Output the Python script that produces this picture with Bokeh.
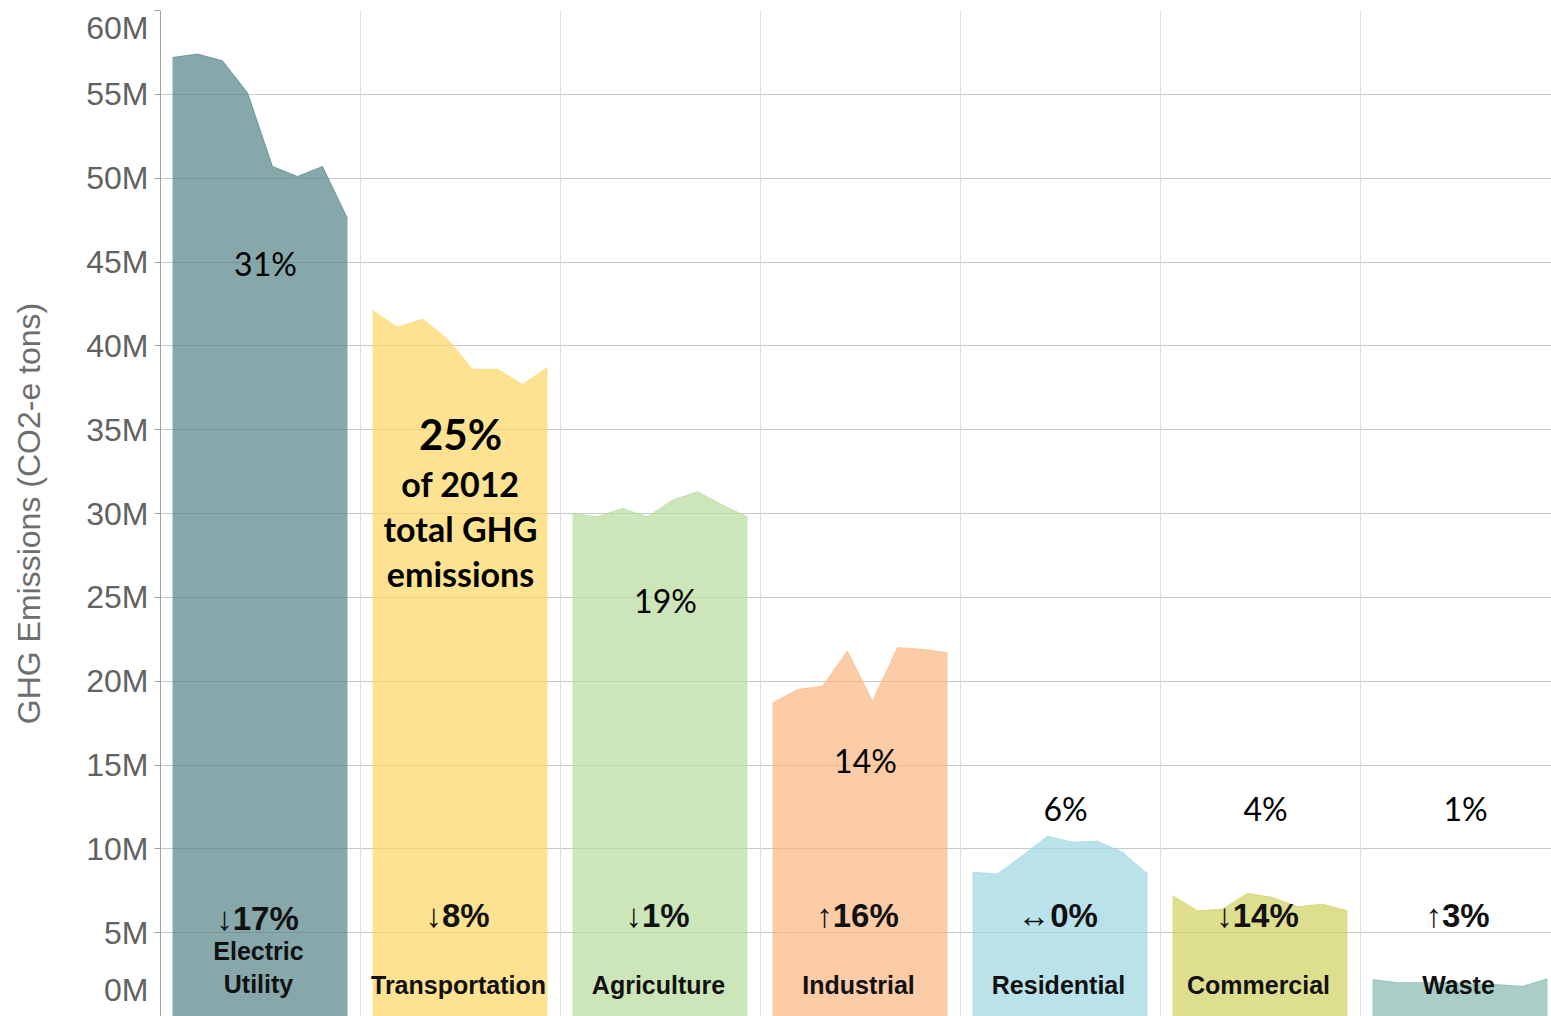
from bokeh.plotting import figure
from bokeh.models import Range1d, FixedTicker, ColumnDataSource, PrintfTickFormatter, Grid
from bokeh.core.properties import value
from bokeh.embed import file_html
from bokeh.resources import INLINE

# ---------------- data ----------------
years = [2005, 2006, 2007, 2008, 2009, 2010, 2011, 2012]
sectors = ["Electric Utility", "Transportation", "Agriculture", "Industrial",
           "Residential", "Commercial", "Waste"]
# GHG emissions, millions of tons CO2-e
electric = [57.2, 57.4, 57.0, 55.1, 50.7, 50.1, 50.7, 47.6]
transportation = [42.1, 41.1, 41.6, 40.4, 38.6, 38.6, 37.7, 38.7]
agriculture = [30.0, 29.8, 30.3, 29.8, 30.8, 31.3, 30.5, 29.8]
industrial = [18.7, 19.5, 19.7, 21.8, 18.8, 22.0, 21.9, 21.7]
residential = [8.6, 8.5, 9.6, 10.75, 10.4, 10.45, 9.8, 8.5]
commercial = [7.2, 6.3, 6.4, 7.35, 7.1, 6.55, 6.7, 6.3]
waste = [2.2, 2.02, 2.02, 2.02, 1.96, 1.9, 1.8, 2.25]

share_2012 = ["31%", "25%", "19%", "14%", "6%", "4%", "1%"]
change_2005_2012 = ["↓17%", "↓8%", "↓1%", "↑16%", "↔0%", "↓14%", "↑3%"]
sector_labels = ["Electric\nUtility", "Transportation", "Agriculture", "Industrial",
                 "Residential", "Commercial", "Waste"]
note_lines = ["of 2012", "total GHG", "emissions"]
y_ticks = [0, 5, 10, 15, 20, 25, 30, 35, 40, 45, 50, 55, 60]

# ---------------- styling / layout ----------------
series = [electric, transportation, agriculture, industrial, residential, commercial, waste]
colors = ["#528388", "#FCD662", "#B6DB9C", "#F9B680", "#9BD5E1", "#D0D060", "#86B8B0"]
AREA_START = 0.06
YEAR_STEP = 0.125

# label anchor heights (in axis units)
share_y = [44.9, 34.77, 24.81, 15.27, 12.41, 12.41, 12.41]
note_y = [31.79, 29.1, 26.42]
change_y = [5.84, 6.02, 6.02, 6.02, 6.02, 6.02, 6.02]
name_y = [2.92, 1.85, 1.85, 1.85, 1.85, 1.85, 1.85]

p = figure(width=1551, height=1016, output_backend="svg", toolbar_location=None,
           x_range=Range1d(0, 6.955), y_range=Range1d(0, 60),
           x_axis_location=None,
           min_border_left=160, min_border_top=10, min_border_bottom=0, min_border_right=0)
p.outline_line_color = None
p.background_fill_color = "white"
p.border_fill_color = "white"

# grids
p.ygrid.ticker = FixedTicker(ticks=y_ticks)
p.ygrid.grid_line_color = "#c9c9c9"
p.ygrid.grid_line_width = 1
p.add_layout(Grid(dimension=0, ticker=FixedTicker(ticks=list(range(1, len(sectors)))),
                  grid_line_color="#e0e0e0", grid_line_width=1))

# y axis
ax = p.yaxis[0]
ax.ticker = FixedTicker(ticks=y_ticks)
ax.formatter = PrintfTickFormatter(format="%dM")
# first/last labels nudged inside the frame
ax.major_label_overrides = {0: "0M\n", 60: "\n60M"}
ax.major_label_text_line_height = 0.25
ax.axis_line_color = "#a0a0a0"
ax.major_tick_line_color = "#a0a0a0"
ax.major_tick_out = 6
ax.major_tick_in = 0
ax.minor_tick_line_color = None
ax.major_label_standoff = 6
ax.major_label_text_font = "Liberation Sans"
ax.major_label_text_font_size = "32px"
ax.major_label_text_color = "#626262"
ax.axis_label = "GHG Emissions (CO2-e tons)"
ax.axis_label_text_font = "Liberation Sans"
ax.axis_label_text_font_size = "32px"
ax.axis_label_text_font_style = "normal"
ax.axis_label_text_color = "#6e6e6e"
ax.axis_label_standoff = 36

# areas
for i, (vals, col) in enumerate(zip(series, colors)):
    xs = [i + AREA_START + (yr - years[0]) * YEAR_STEP for yr in years]
    src = ColumnDataSource(dict(x=xs, y=vals))
    p.varea(x="x", y1=0, y2="y", source=src, fill_color=col, fill_alpha=0.7)
    p.line(x="x", y="y", source=src, line_color=col, line_width=1, line_alpha=0.7)

centers = [i + 0.5 for i in range(len(sectors))]

# share labels (regular), except transportation (bold note)
idx = [i for i in range(len(sectors)) if i != 1]
share_src = ColumnDataSource(dict(x=[centers[i] + 0.025 for i in idx],
                                  y=[share_y[i] for i in idx],
                                  t=[share_2012[i] for i in idx]))
p.text(x="x", y="y", text="t", source=share_src, text_font=value("Lato"),
       text_font_size="32px", text_align="center", text_baseline="middle", text_color="black")

p.text(x=[centers[1]], y=[share_y[1]], text=[share_2012[1]], text_font=value("Lato"),
       text_font_style="bold", text_font_size="42px", text_align="center",
       text_baseline="middle", text_color="black")
p.text(x=[centers[1]] * len(note_lines), y=note_y, text=note_lines, text_font=value("Lato"),
       text_font_style="bold", text_font_size="34px", text_align="center",
       text_baseline="middle", text_color="black")

# change labels
ch_src = ColumnDataSource(dict(x=[c - 0.015 for c in centers], y=change_y, t=change_2005_2012))
p.text(x="x", y="y", text="t", source=ch_src, text_font=value("Liberation Sans"),
       text_font_style="bold", text_font_size="33px", text_align="center",
       text_baseline="middle", text_color="#111111")

# sector names
nm_src = ColumnDataSource(dict(x=[c - 0.01 for c in centers], y=name_y, t=sector_labels))
p.text(x="x", y="y", text="t", source=nm_src, text_font=value("Liberation Sans"),
       text_font_style="bold", text_font_size="25px", text_align="center",
       text_baseline="middle", text_line_height=1.2, text_color="#111111")

open("out.html", "w").write(file_html(p, INLINE))
